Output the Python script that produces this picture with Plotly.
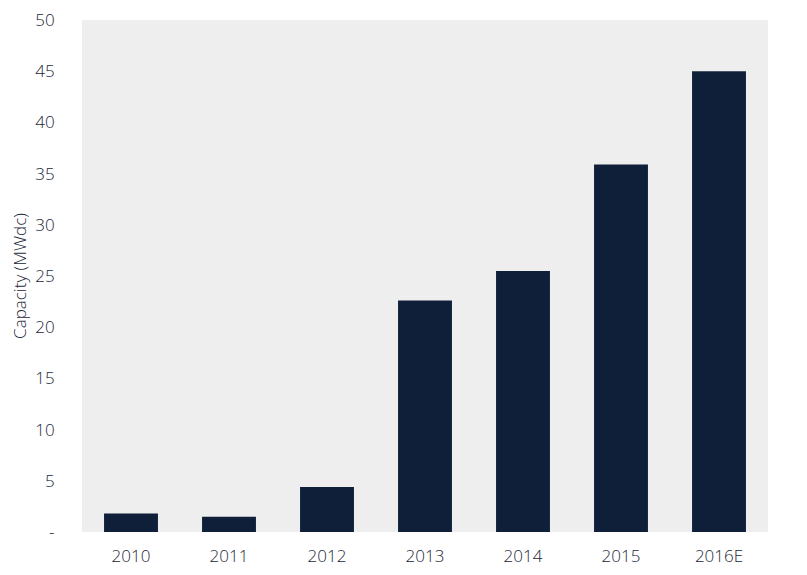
import plotly.graph_objects as go

years = ["2010", "2011", "2012", "2013", "2014", "2015", "2016E"]
capacity = [1.8, 1.5, 4.4, 22.6, 25.5, 35.9, 45.0]
tick_vals = [0, 5, 10, 15, 20, 25, 30, 35, 40, 45, 50]
tick_text = ["-", "5", "10", "15", "20", "25", "30", "35", "40", "45", "50"]

font_family = "Open Sans, Lato, sans-serif"
text_color = "#1c2738"

fig = go.Figure(go.Bar(x=years, y=capacity, marker=dict(color="#0f1f3a", line=dict(width=0))))

fig.update_layout(
    width=807, height=575,
    margin=dict(l=74, r=47, t=12, b=51),
    paper_bgcolor="white",
    plot_bgcolor="#eeeeee",
    bargap=0.45,
    showlegend=False,
    font=dict(family=font_family, color=text_color, size=17, weight=300),
)
fig.update_xaxes(
    showgrid=False, zeroline=False, showline=False,
    ticks="outside", ticklen=9, tickcolor="rgba(0,0,0,0)",
    tickfont=dict(size=17, weight=300), automargin=False,
)
fig.update_yaxes(
    range=[0, 50], tickvals=tick_vals, ticktext=tick_text,
    showgrid=False, zeroline=False, showline=False,
    ticks="outside", ticklen=23, tickcolor="rgba(0,0,0,0)",
    tickfont=dict(size=17, weight=300), ticklabeloverflow="allow", automargin=False,
    title=dict(text="Capacity (MWdc)", font=dict(size=17, weight=300), standoff=8),
)

fig.write_html("out.html")
